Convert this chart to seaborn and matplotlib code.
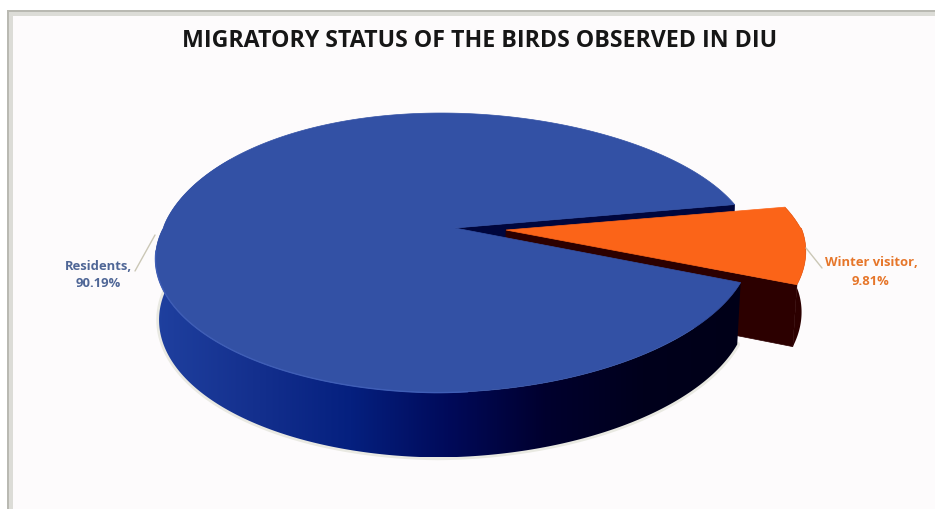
import numpy as np
import matplotlib
matplotlib.use("Agg")
import matplotlib.pyplot as plt
from matplotlib.patches import Polygon, Rectangle
import seaborn as sns

# Survey shares (percent)
categories = ["Residents", "Winter visitor"]
shares = [90.19, 9.81]
title = "MIGRATORY STATUS OF THE BIRDS OBSERVED IN DIU"

sns.set_theme(style="white")
plt.rcParams["font.family"] = ["Open Sans", "DejaVu Sans"]

WIDTH, HEIGHT = 935, 509
fig = plt.figure(figsize=(WIDTH / 100, HEIGHT / 100), dpi=100)
ax = fig.add_axes([0, 0, 1, 1])
ax.axis("off")

# Slide-like backdrop with a grey frame on the top and left
ax.add_patch(Rectangle((0, 0), WIDTH, HEIGHT, fc="white", ec="none"))
ax.add_patch(Rectangle((7, 10), WIDTH, HEIGHT, fc="#b9b9b2", ec="none"))
ax.add_patch(Rectangle((9, 12), WIDTH, HEIGHT, fc="#dcdcd7", ec="none"))
ax.add_patch(Rectangle((13, 16), WIDTH, HEIGHT, fc="#fdfbfc", ec="none"))

# Projection of the unit disc onto the page
CX, CY = 455, 228
RX, KY = 293, 135
TILT_Y, TILT_X, SHEAR = 0.18, -0.005, 15
DEPTH = 60
TAPER = 0.012
BULGE_BACK, BULGE_FRONT = 11, 3


def project(x, y, drop=0.0):
    x, y = np.asarray(x, float), np.asarray(y, float)
    s = 1 / (1 + TILT_Y * y + TILT_X * x)
    bulge = (BULGE_BACK * x * np.sqrt(np.maximum(y, 0))
             - BULGE_FRONT * np.abs(x) * np.sqrt(np.maximum(-y, 0)))
    return (CX + (RX * x + SHEAR * y) * s * (1 - TAPER * drop),
            CY - KY * y * s + bulge + drop * DEPTH * (1 - 0.08 * y))


def arc(a0, a1, n, off=(0.0, 0.0)):
    t = np.radians(np.linspace(a0, a1, n))
    return np.cos(t) + off[0], np.sin(t) + off[1]


# Wedge angles follow from the shares
sweep = [v / sum(shares) * 360 for v in shares]
upper_cut = 12.6
lower_cut = upper_cut - sweep[1]
mid = np.radians(upper_cut - sweep[1] / 2)
explode = (0.175 * np.cos(mid), 0.175 * np.sin(mid))


def wall(px, py, color, z):
    # Radial cut face running from the hub to a rim point
    x0, y0 = project(px[0], py[0])
    x1, y1 = project(px[1], py[1])
    x2, y2 = project(px[1], py[1], 1)
    x3, y3 = project(px[0], py[0], 1)
    ax.fill([x0, x1, x2, x3], [y0, y1, y2, y3], fc=color, ec=color, lw=0.5, zorder=z)


def side(a0, a1, palette, z, off=(0.0, 0.0)):
    # Rim band filled with a left-to-right gradient clipped to its outline
    xs, ys = arc(a0, a1, 300, off)
    tx, ty = project(xs, ys)
    bx, by = project(xs, ys, 1)
    outline = np.c_[np.r_[tx, bx[::-1]], np.r_[ty, by[::-1]]]
    shape = Polygon(outline, closed=True, fc="none", ec="none", transform=ax.transData)
    ax.add_patch(shape)
    ramp = np.array(palette)[None, :, :]
    left, right = outline[:, 0].min(), outline[:, 0].max()
    top, bottom = outline[:, 1].min(), outline[:, 1].max()
    img = ax.imshow(ramp, extent=(left, right, bottom, top), aspect="auto",
                    interpolation="bilinear", zorder=z)
    img.set_clip_path(shape)


blue_top = "#3351a5"
orange_top = "#fb6418"
blue_side = sns.blend_palette(
    ["#1f409f", "#14308e", "#05207f", "#000a5a", "#00002e", "#00001c", "#000018"], 256)
red_side = sns.blend_palette(["#3a0500", "#2c0000", "#2c0000"], 64)

# Soft halo beneath the pie
halo_x, halo_y = arc(170, 360 + lower_cut, 300)
hx, hy = project(halo_x, halo_y, 1)
ax.plot(hx, hy, color="#e9e9e2", lw=4, zorder=1)

# Cut face of the large slice seen through the gap
wall(np.array([0, np.cos(np.radians(upper_cut))]),
     np.array([0, np.sin(np.radians(upper_cut))]), "#00063c", 2)

# Winter visitor slice, pulled out from the hub
ox, oy = arc(upper_cut, lower_cut, 60, explode)
wall(np.array([explode[0], ox[-1]]), np.array([explode[1], oy[-1]]), "#2c0000", 3)
side(upper_cut, lower_cut, red_side, 3, explode)
px, py = project(np.r_[explode[0], ox], np.r_[explode[1], oy])
ax.fill(px, py, fc=orange_top, ec=orange_top, lw=0.5, zorder=4)

# Residents slice: rim first, then the top face
side(150, 360 + lower_cut, blue_side, 5)
bx_, by_ = arc(upper_cut, upper_cut + sweep[0], 400)
px, py = project(np.r_[0, bx_], np.r_[0, by_])
ax.fill(px, py, fc=blue_top, ec=blue_top, lw=0.5, zorder=6)

# Faint highlight along the front-left edge of the top face
hl_x, hl_y = project(*arc(190, 275, 80))
ax.plot(hl_x, hl_y, color="#3f5eb6", lw=1, zorder=6.5)

# Labels with their leader lines
ax.plot([135, 155], [271, 235], color="#cbc7b6", lw=1, zorder=7)
ax.plot([806, 822], [248, 268], color="#cbc7b6", lw=1, zorder=7)
ax.text(98, 275, f"{categories[0]},\n{shares[0]:.2f}%", ha="center", va="center",
        color="#4f6696", fontsize=9.4, fontweight="bold", linespacing=1.45, zorder=8)
ax.text(871, 272, f"{categories[1]},\n{shares[1]:.2f}%", ha="center", va="center",
        color="#e6762a", fontsize=9.4, fontweight="bold", linespacing=1.55, zorder=8)
ax.text(479.5, 41, title, ha="center", va="center", color="#161616",
        fontsize=16.7, fontweight="bold", zorder=8)

ax.set_xlim(0, WIDTH)
ax.set_ylim(HEIGHT, 0)

fig.savefig("out.png", dpi=100)
